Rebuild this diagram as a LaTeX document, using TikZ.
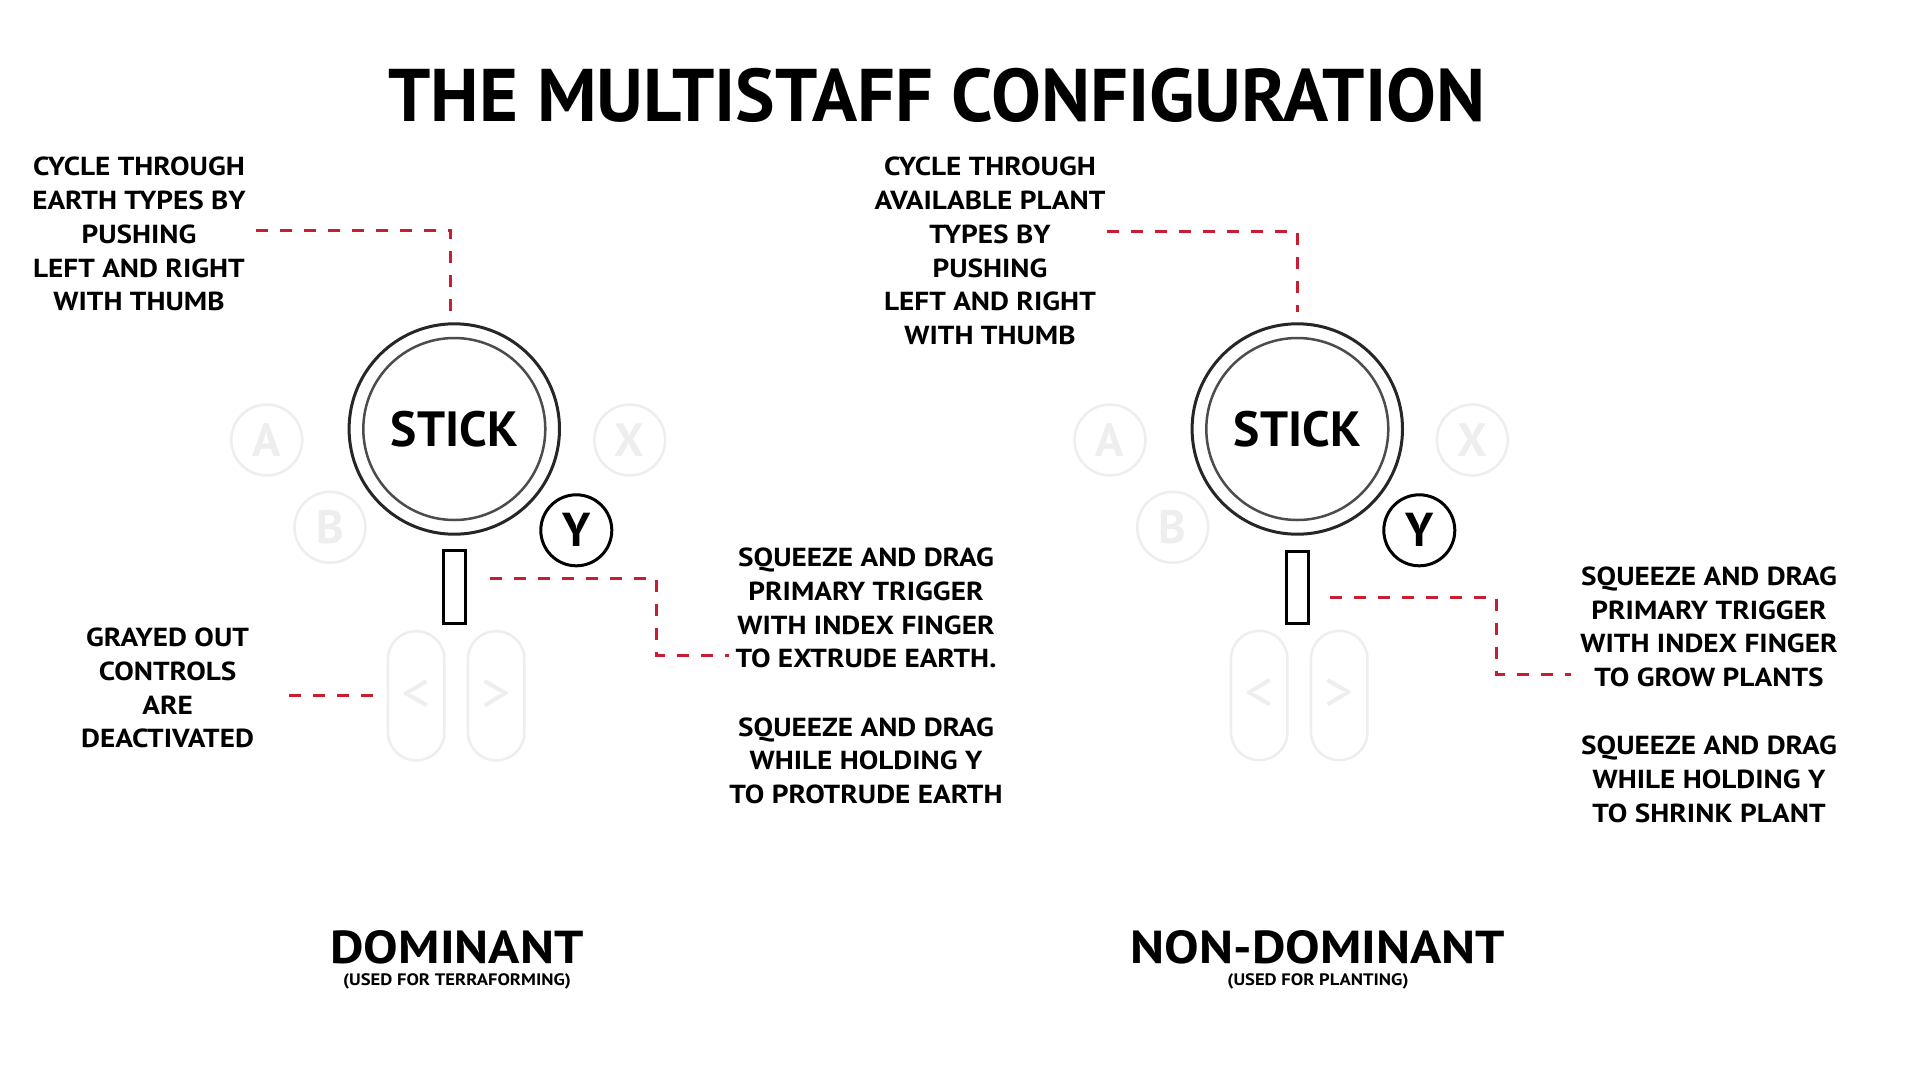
\documentclass[tikz,border=0pt]{standalone}
\usepackage{fontspec}
\setmainfont{PT Sans}
\newfontfamily\widefont{PT Sans}[FakeStretch=1.12,BoldFeatures={FakeStretch=1.12}]
\usetikzlibrary{positioning}
\definecolor{leadred}{RGB}{200,30,52}
\definecolor{ghost}{RGB}{238,238,238}

\begin{document}
\begin{tikzpicture}[x=1pt,y=-1pt,
  every node/.style={inner sep=0,outer sep=0},
  txt/.style={align=center,font=\widefont\bfseries\fontsize{26.1}{33.7}\selectfont},
  ttl/.style={font=\bfseries\fontsize{74.6}{80}\selectfont},
  hand/.style={font=\widefont\bfseries\fontsize{46.2}{50}\selectfont},
  sub/.style={font=\widefont\bfseries\fontsize{16.6}{18}\selectfont},
  lead/.style={draw=leadred,line width=3pt,dash pattern=on 12pt off 12pt},
  stick/.style={circle,draw=black!85,line width=3pt,minimum size=210.4pt,font=\bfseries\fontsize{49.5}{52}\selectfont},
  ring/.style={draw=black!70,line width=2.5pt},
  btn/.style={circle,draw=ghost,text=ghost,line width=2.5pt,minimum size=70.9pt,font=\bfseries\fontsize{46.7}{50}\selectfont},
  ybtn/.style={circle,draw=black,line width=3pt,minimum size=71pt,font=\bfseries\fontsize{47.6}{50}\selectfont},
  trig/.style={rectangle,draw=black,line width=3pt,minimum width=22.6pt,minimum height=72.7pt},
  pill/.style={rectangle,draw=ghost,text=ghost,line width=2.5pt,rounded corners=28pt,minimum width=56.5pt,minimum height=129.2pt,font=\fontsize{58}{60}\selectfont}]
\fill[white] (0,0) rectangle (1923,1080);

\node[ttl,anchor=north] (title) at (937,68.3) {THE MULTISTAFF CONFIGURATION};

% dominant hand
\node[stick] (stickL) at (454.3,429) {STICK};
\draw[ring] (stickL.center) circle (91);
\node[btn] (aL) at (266.7,440) {A};
\node[btn] (xL) at (629.7,440) {X};
\node[btn] (bL) at (330,527.3) {B};
\node[ybtn] (yL) at (576.3,530.3) {Y};
\node[trig] (trigL) at (454.5,587.2) {};
\node[pill] (lftL) at (416.2,695.8) {<};
\node[pill] (rgtL) at (496.2,695.8) {>};

\node[txt,anchor=north] (cycL) at (139,157.3) {CYCLE THROUGH\\EARTH TYPES BY\\PUSHING\\LEFT AND RIGHT\\WITH THUMB};
\node[txt,anchor=north] (grayL) at (167.6,628.2) {GRAYED OUT\\CONTROLS\\ARE\\DEACTIVATED};
\node[txt,anchor=north] (sqzLa) at (866,548.2) {SQUEEZE AND DRAG\\PRIMARY TRIGGER\\WITH INDEX FINGER\\TO EXTRUDE EARTH.};
\node[txt,below=49.3pt of sqzLa] (sqzLb) {SQUEEZE AND DRAG\\WHILE HOLDING Y\\TO PROTRUDE EARTH};

\node[hand,anchor=north] (domL) at (457,930.7) {DOMINANT};
\node[sub,below=9pt of domL] (subL) {(USED FOR TERRAFORMING)};

\draw[lead] ([xshift=10pt,yshift=3.7pt]cycL.east) -| ([xshift=-3.5pt,yshift=11.5pt]stickL.north);
\draw[lead] ([xshift=24.2pt,yshift=8.5pt]trigL.east) -- ++(166.5,0) |- ([xshift=-7pt,yshift=12.5pt]sqzLa.south west);
\draw[lead] ([xshift=-15.2pt]lftL.west) -- ++(-83.7,0);

% non-dominant hand
\node[stick] (stickR) at (1297.3,429) {STICK};
\draw[ring] (stickR.center) circle (91);
\node[btn] (aR) at (1110,440) {A};
\node[btn] (xR) at (1472.3,440) {X};
\node[btn] (bR) at (1172.7,527.3) {B};
\node[ybtn] (yR) at (1419.3,530.3) {Y};
\node[trig] (trigR) at (1297.5,587.5) {};
\node[pill] (lftR) at (1259.2,695.5) {<};
\node[pill] (rgtR) at (1339.2,695.5) {>};

\node[txt,anchor=north] (cycR) at (990,157.3) {CYCLE THROUGH\\AVAILABLE PLANT\\TYPES BY\\PUSHING\\LEFT AND RIGHT\\WITH THUMB};
\node[txt,anchor=north] (sqzRa) at (1709,566.7) {SQUEEZE AND DRAG\\PRIMARY TRIGGER\\WITH INDEX FINGER\\TO GROW PLANTS};
\node[txt,below=49.3pt of sqzRa] (sqzRb) {SQUEEZE AND DRAG\\WHILE HOLDING Y\\TO SHRINK PLANT};

\node[hand,anchor=north] (domR) at (1318,930.7) {NON-DOMINANT};
\node[sub,below=9pt of domR] (subR) {(USED FOR PLANTING)};

\draw[lead] ([xshift=2pt,yshift=20pt]cycR.east) -| ([yshift=11.5pt]stickR.north);
\draw[lead] ([xshift=21.2pt,yshift=-9.8pt]trigR.east) -- ++(166.7,0) |- ([xshift=-9.4pt,yshift=12.5pt]sqzRa.south west);
\end{tikzpicture}
\end{document}
